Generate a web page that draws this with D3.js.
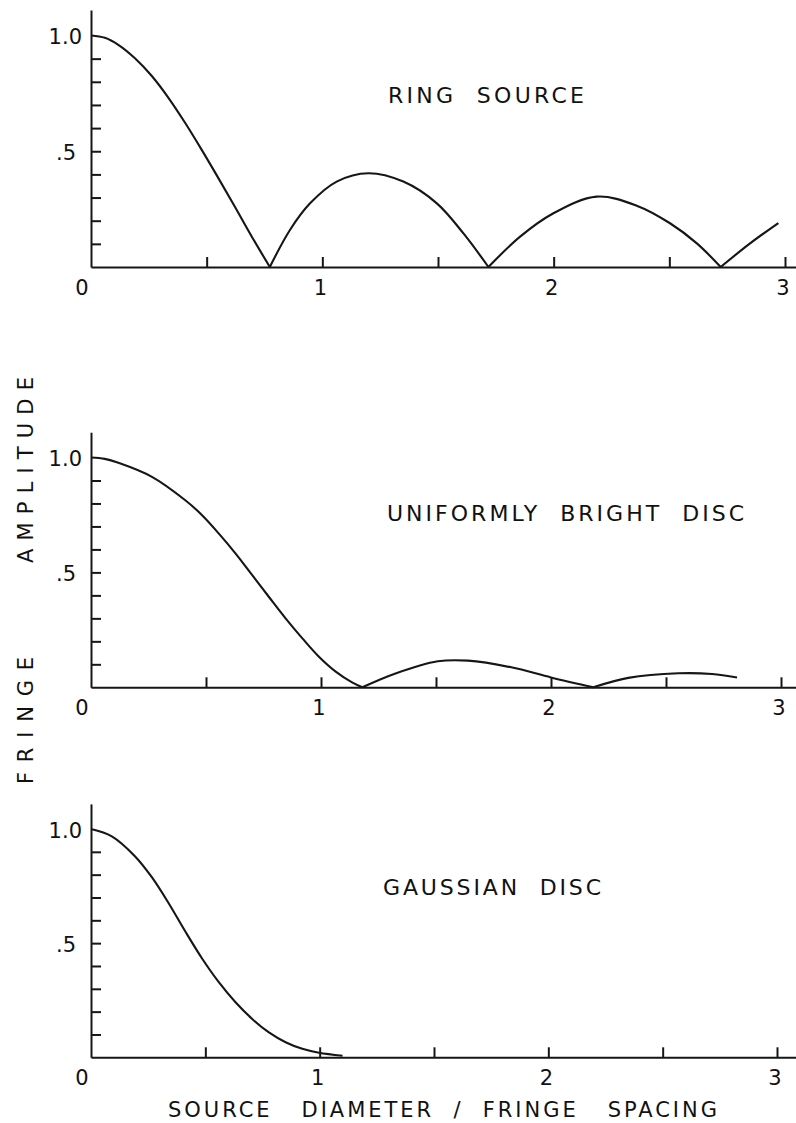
<!DOCTYPE html>
<meta charset="utf-8">
<head>
	<style>
		body { margin: 0; background: #fff; }
		svg { display: block; }
		text { font-family: "DejaVu Sans", sans-serif; fill: #111; white-space: pre; }
		.curve { fill: none; stroke: #161616; stroke-width: 2.1; stroke-linejoin: round; }
		.axis path, .axis line { stroke-width: 2; }
	</style>
	<script src="https://d3js.org/d3.v7.min.js"></script>
</head>
<body></body>
<script>

	var width = 796,
	    height = 1123;

	// values: [source diameter / fringe spacing, fringe amplitude]
	var ringSource = [
		[0, 1.0], [0.06, 0.99], [0.118, 0.96], [0.19, 0.902], [0.262, 0.826], [0.334, 0.732],
		[0.406, 0.624], [0.478, 0.507], [0.55, 0.385], [0.622, 0.26], [0.694, 0.133], [0.773, 0],
		[0.86, 0.16], [0.947, 0.275], [1.062, 0.369], [1.199, 0.405], [1.35, 0.369], [1.495, 0.275],
		[1.61, 0.145], [1.718, 0],
		[1.855, 0.131], [1.999, 0.232], [2.186, 0.304], [2.359, 0.265], [2.503, 0.189], [2.619, 0.102],
		[2.722, 0],
		[2.849, 0.102], [2.971, 0.19]
	];

	var uniformDisc = [
		[0, 1.0], [0.06, 0.994], [0.119, 0.977], [0.265, 0.916], [0.41, 0.814], [0.483, 0.749],
		[0.555, 0.67], [0.628, 0.583], [0.701, 0.488], [0.773, 0.394], [0.846, 0.30], [0.919, 0.213],
		[0.991, 0.133], [1.064, 0.068], [1.137, 0.02], [1.18, 0],
		[1.318, 0.058], [1.508, 0.113], [1.639, 0.116], [1.827, 0.087], [2.0, 0.043], [2.184, 0],
		[2.336, 0.041], [2.554, 0.061], [2.70, 0.058], [2.809, 0.043]
	];

	var gaussianDisc = [
		[0, 1.0], [0.091, 0.968], [0.193, 0.88], [0.266, 0.789], [0.339, 0.676], [0.412, 0.552],
		[0.485, 0.434], [0.559, 0.329], [0.632, 0.241], [0.705, 0.168], [0.778, 0.109], [0.851, 0.066],
		[0.924, 0.037], [0.997, 0.02], [1.1, 0.007]
	];

	var titles = ["RING  SOURCE", "UNIFORMLY  BRIGHT  DISC", "GAUSSIAN  DISC"];
	var xTicks = [0.5, 1, 1.5, 2, 2.5, 3],
	    xLabels = [0, 1, 2, 3],
	    yTicks = [0.1, 0.2, 0.3, 0.4, 0.5, 0.6, 0.7, 0.8, 0.9],
	    yLabelValues = [1, 0.5],
	    yLabelText = ["1.0", ".5"];
	var xTitle = "SOURCE   DIAMETER  /  FRINGE   SPACING",
	    yTitleWords = ["FRINGE", "AMPLITUDE"];

	// panel placement on the page
	var panels = [
		{data: ringSource,   title: titles[0], xEnd: 785, yZero: 267,    yOne: 35.5,  titleX: 388, titleW: 196, titleY: 103},
		{data: uniformDisc,  title: titles[1], xEnd: 781, yZero: 687.3,  yOne: 457.5, titleX: 387, titleW: 357, titleY: 521},
		{data: gaussianDisc, title: titles[2], xEnd: 777, yZero: 1057.3, yOne: 829,   titleX: 383, titleW: 218, titleY: 895}
	];

	var svg = d3.select("body").append("svg")
		.attr("width", width)
		.attr("height", height);

	var line = d3.line().curve(d3.curveCatmullRom.alpha(0.5));

	panels.forEach(function(p) {
		var x = d3.scaleLinear().domain([0, 3]).range([91, p.xEnd]),
		    y = d3.scaleLinear().domain([0, 1]).range([p.yZero, p.yOne]);

		var g = svg.append("g");

		// axes: ticks point into the plot
		g.append("g")
			.attr("class", "axis")
			.attr("color", "#161616")
			.attr("transform", "translate(0," + y(0) + ")")
			.call(d3.axisBottom(x.copy().domain([0, 3.1]).range([x(0), x(3.1)]))
				.tickValues(xTicks).tickSize(-10).tickSizeOuter(0).tickFormat(""));

		g.append("g")
			.attr("class", "axis")
			.attr("color", "#161616")
			.attr("transform", "translate(" + x(0) + ",0)")
			.call(d3.axisRight(y.copy().domain([0, 1.11]).range([y(0), y(1.11)]))
				.tickValues(yTicks).tickSize(10).tickSizeOuter(0).tickFormat(""));

		g.selectAll(".xlab")
			.data(xLabels)
		  .enter().append("text")
			.attr("class", "xlab")
			.attr("x", function(d) { return x(d) + (d === 0 ? -9 : -2); })
			.attr("y", y(0) + 28)
			.attr("text-anchor", "middle")
			.style("font-size", "21px")
			.text(function(d) { return d; });

		g.selectAll(".ylab")
			.data(yLabelValues)
		  .enter().append("text")
			.attr("class", "ylab")
			.attr("x", function(d, i) { return i === 0 ? 82 : 76; })
			.attr("y", function(d) { return y(d) + 8.5; })
			.attr("text-anchor", "end")
			.style("font-size", "21px")
			.text(function(d, i) { return yLabelText[i]; });

		// split the curve into lobes at its interior zeros so the cusps stay sharp
		var lobes = [[]];
		p.data.forEach(function(d, i) {
			lobes[lobes.length - 1].push(d);
			if (d[1] === 0 && i > 0 && i < p.data.length - 1) lobes.push([d]);
		});

		g.selectAll(".curve")
			.data(lobes)
		  .enter().append("path")
			.attr("class", "curve")
			.attr("d", function(d) { return line(d.map(function(v) { return [x(v[0]), y(v[1])]; })); });

		g.append("text")
			.attr("x", p.titleX)
			.attr("y", p.titleY)
			.attr("textLength", p.titleW)
			.attr("lengthAdjust", "spacing")
			.style("font-size", "22px")
			.text(p.title);
	});

	svg.append("text")
		.attr("x", 168)
		.attr("y", 1117)
		.attr("textLength", 549)
		.attr("lengthAdjust", "spacing")
		.style("font-size", "21px")
		.text(xTitle);

	// vertical axis title, read bottom to top
	var yTitlePos = [[33, 720.5, 127], [33, 470, 186]];
	yTitleWords.forEach(function(w, i) {
		svg.append("text")
			.attr("transform", "translate(" + yTitlePos[i][0] + "," + yTitlePos[i][1] + ")rotate(-90)")
			.attr("x", -yTitlePos[i][2] / 2)
			.attr("textLength", yTitlePos[i][2])
			.attr("lengthAdjust", "spacing")
			.style("font-size", "21px")
			.text(w);
	});

</script>
